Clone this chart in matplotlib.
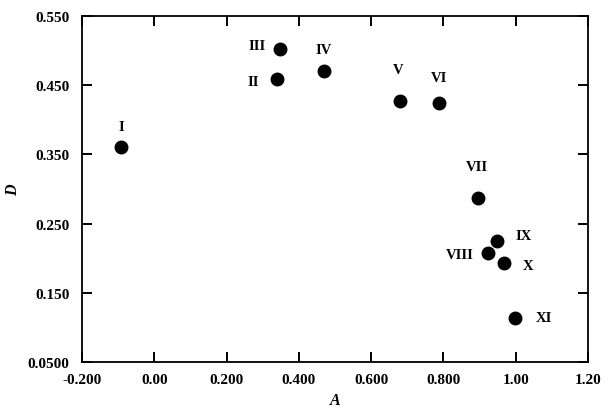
#!/usr/bin/env python3
"""Scatter of D vs A for compounds I-XI (roman-numeral labels)."""

import matplotlib
matplotlib.use("Agg")
import matplotlib.pyplot as plt

# ── data ──────────────────────────────────────────────────────
names = ["I", "II", "III", "IV", "V", "VI", "VII", "VIII", "IX", "X", "XI"]
A_vals = [-0.091, 0.339, 0.348, 0.469, 0.681, 0.789, 0.897, 0.924, 0.948, 0.968, 0.998]
D_vals = [0.361, 0.459, 0.503, 0.470, 0.427, 0.425, 0.287, 0.208, 0.225, 0.193, 0.114]

x_ticks = [-0.2, 0.0, 0.2, 0.4, 0.6, 0.8, 1.0, 1.2]
x_tick_labels = ["-0.200", "0.00", "0.200", "0.400", "0.600", "0.800", "1.00", "1.20"]
y_ticks = [0.05, 0.15, 0.25, 0.35, 0.45, 0.55]
y_tick_labels = ["0.0500", "0.150", "0.250", "0.350", "0.450", "0.550"]

# label offsets (pixels) relative to each dot
label_dx = [0, -24, -23, 0, -2, 0, -2, -28, 27, 24, 29]
label_dy = [20, -3, 3, 22, 32, 25, 31, -2, 5, -2, 0]

# ── style ──────────────────────────────────────────────────────
FONT = "Liberation Serif"
plt.rcParams["font.family"] = [FONT, "DejaVu Serif"]

fig = plt.figure(figsize=(6.11, 4.10), dpi=100)
ax = fig.add_axes([82 / 611, 1 - 363 / 410, 506 / 611, 346 / 410])

ax.plot(A_vals, D_vals, "o", color="black", ms=9, mec="black")

for n, a, d, dx, dy in zip(names, A_vals, D_vals, label_dx, label_dy):
    ax.annotate(n, (a, d), xytext=(dx, dy), textcoords="offset pixels",
                ha="center", va="center", fontsize=10.5, fontweight="bold")

ax.set_xlim(-0.2, 1.2)
ax.set_ylim(0.05, 0.55)
ax.set_xticks(x_ticks)
ax.set_xticklabels(x_tick_labels)
ax.set_yticks(y_ticks)
ax.set_yticklabels(y_tick_labels)

ax.tick_params(direction="in", length=7, width=1.4, top=True, right=True,
               labelsize=11)
ax.tick_params(axis="x", pad=8)
ax.tick_params(axis="y", pad=9)
for lab in ax.get_xticklabels() + ax.get_yticklabels():
    lab.set_fontweight("bold")
for s in ax.spines.values():
    s.set_linewidth(1.3)

ax.set_xlabel("A", fontsize=11.5, fontweight="bold", fontstyle="italic", labelpad=4)
ax.set_ylabel("D", fontsize=11.5, fontweight="bold", fontstyle="italic", labelpad=5)

fig.savefig("out.png", dpi=100)
